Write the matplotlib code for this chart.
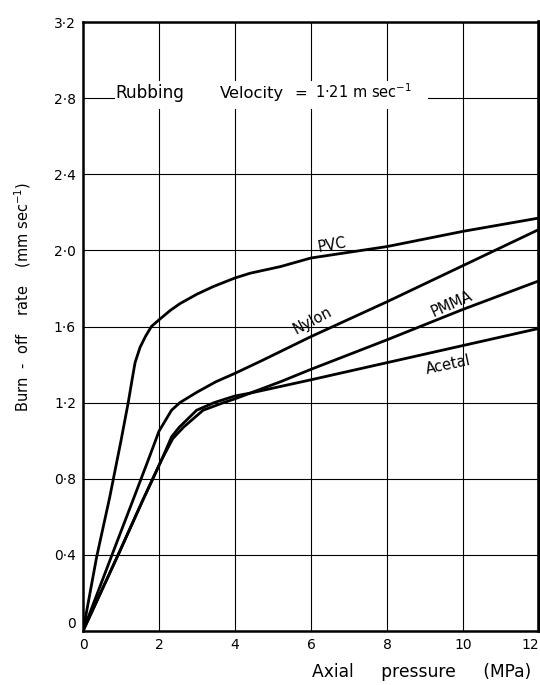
import matplotlib
matplotlib.use("Agg")
import matplotlib.pyplot as plt
from matplotlib.patches import Rectangle

# ---- data ----
pvc_x = [0, 0.36, 0.7, 1.0, 1.19, 1.3, 1.37, 1.5, 1.65, 1.8, 2.0, 2.3, 2.55, 3.0, 3.43, 4.0, 4.4, 5.2, 6.0, 7.0, 8.0, 9.0, 10.0, 11.0, 12.0]
pvc_y = [0, 0.39, 0.70, 1.0, 1.2, 1.33, 1.41, 1.49, 1.55, 1.60, 1.635, 1.685, 1.72, 1.77, 1.81, 1.855, 1.88, 1.915, 1.96, 1.99, 2.02, 2.06, 2.10, 2.135, 2.17]

nylon_x = [0, 0.84, 1.32, 1.72, 2.0, 2.15, 2.33, 2.55, 3.0, 3.5, 4.0, 4.74, 6.0, 8.0, 10.0, 12.0]
nylon_y = [0, 0.44, 0.69, 0.90, 1.05, 1.10, 1.16, 1.20, 1.255, 1.31, 1.354, 1.424, 1.547, 1.73, 1.92, 2.11]

pmma_x = [0, 0.97, 1.58, 2.07, 2.36, 2.64, 3.16, 3.7, 4.0, 4.4, 5.2, 6.0, 8.0, 10.0, 12.0]
pmma_y = [0, 0.42, 0.69, 0.90, 1.01, 1.07, 1.16, 1.20, 1.22, 1.25, 1.31, 1.375, 1.53, 1.69, 1.84]

acetal_x = [0, 0.97, 1.58, 2.07, 2.33, 2.53, 2.99, 3.45, 4.0, 4.4, 5.2, 6.0, 8.0, 10.0, 12.0]
acetal_y = [0, 0.42, 0.69, 0.90, 1.02, 1.07, 1.16, 1.20, 1.235, 1.25, 1.285, 1.32, 1.41, 1.50, 1.59]

x_ticks = [0, 2, 4, 6, 8, 10, 12]
x_ticklabels = ["0", "2", "4", "6", "8", "10", "12"]
y_ticks = [0, 0.4, 0.8, 1.2, 1.6, 2.0, 2.4, 2.8, 3.2]
y_ticklabels = ["0", "0·4", "0·8", "1·2", "1·6", "2·0", "2·4", "2·8", "3·2"]

labels = ["PVC", "Nylon", "PMMA", "Acetal"]
label_pos = [(6.55, 2.03), (6.05, 1.63), (9.7, 1.72), (9.6, 1.40)]
label_rot = [10, 28, 24, 12]

plt.rcParams['font.family'] = ['DejaVu Sans']

fig = plt.figure(figsize=(5.40, 6.85), dpi=100)
ax = fig.add_axes([83/540, 54/685, 456/540, 609/685])

ax.set_xlim(0, 12)
ax.set_ylim(0, 3.2)

ax.set_xticks(x_ticks)
ax.set_xticklabels(x_ticklabels)
ax.set_yticks(y_ticks)
ax.set_yticklabels(y_ticklabels)
ax.tick_params(length=0, labelsize=10, pad=5)
ax.get_xticklabels()[-1].set_ha('right')
ax.get_yticklabels()[0].set_va('bottom')

ax.grid(True, color='black', linewidth=0.8)
ax.set_axisbelow(True)

for s in ['left', 'top', 'bottom']:
    ax.spines[s].set_linewidth(1.8)
ax.spines['right'].set_linewidth(2.6)

for xs, ys in [(pvc_x, pvc_y), (nylon_x, nylon_y), (pmma_x, pmma_y), (acetal_x, acetal_y)]:
    ax.plot(xs, ys, color='black', linewidth=2.0, solid_joinstyle='round', zorder=3)

for lab, (lx, ly), rot in zip(labels, label_pos, label_rot):
    ax.text(lx, ly, lab, fontsize=10.5, rotation=rot, ha='center', va='center',
            rotation_mode='anchor', zorder=4)

# white area behind the annotation (interrupts grid lines)
ax.add_patch(Rectangle((0.84, 2.745), 8.25, 0.145, facecolor='white',
                       edgecolor='none', zorder=1.5))
ax.text(0.84, 2.8, "Rubbing", fontsize=12.2, ha='left', va='baseline', zorder=5)
ax.text(3.6, 2.8, "Velocity", fontsize=11.8, ha='left', va='baseline', zorder=5)
ax.text(5.55, 2.8, "=", fontsize=11, ha='left', va='baseline', zorder=5)
ax.text(6.1, 2.8, "1·21 m sec$^{-1}$", fontsize=10.5, ha='left', va='baseline', zorder=5)

ax.set_ylabel("Burn  -  off    rate    (mm sec$^{-1}$)", fontsize=10.5)
ax.yaxis.set_label_coords(-0.11, 0.548)
ax.text(0.743, -0.068, "Axial     pressure     (MPa)", transform=ax.transAxes,
        fontsize=12.3, ha='center', va='center')

fig.savefig("out.png", dpi=100)
